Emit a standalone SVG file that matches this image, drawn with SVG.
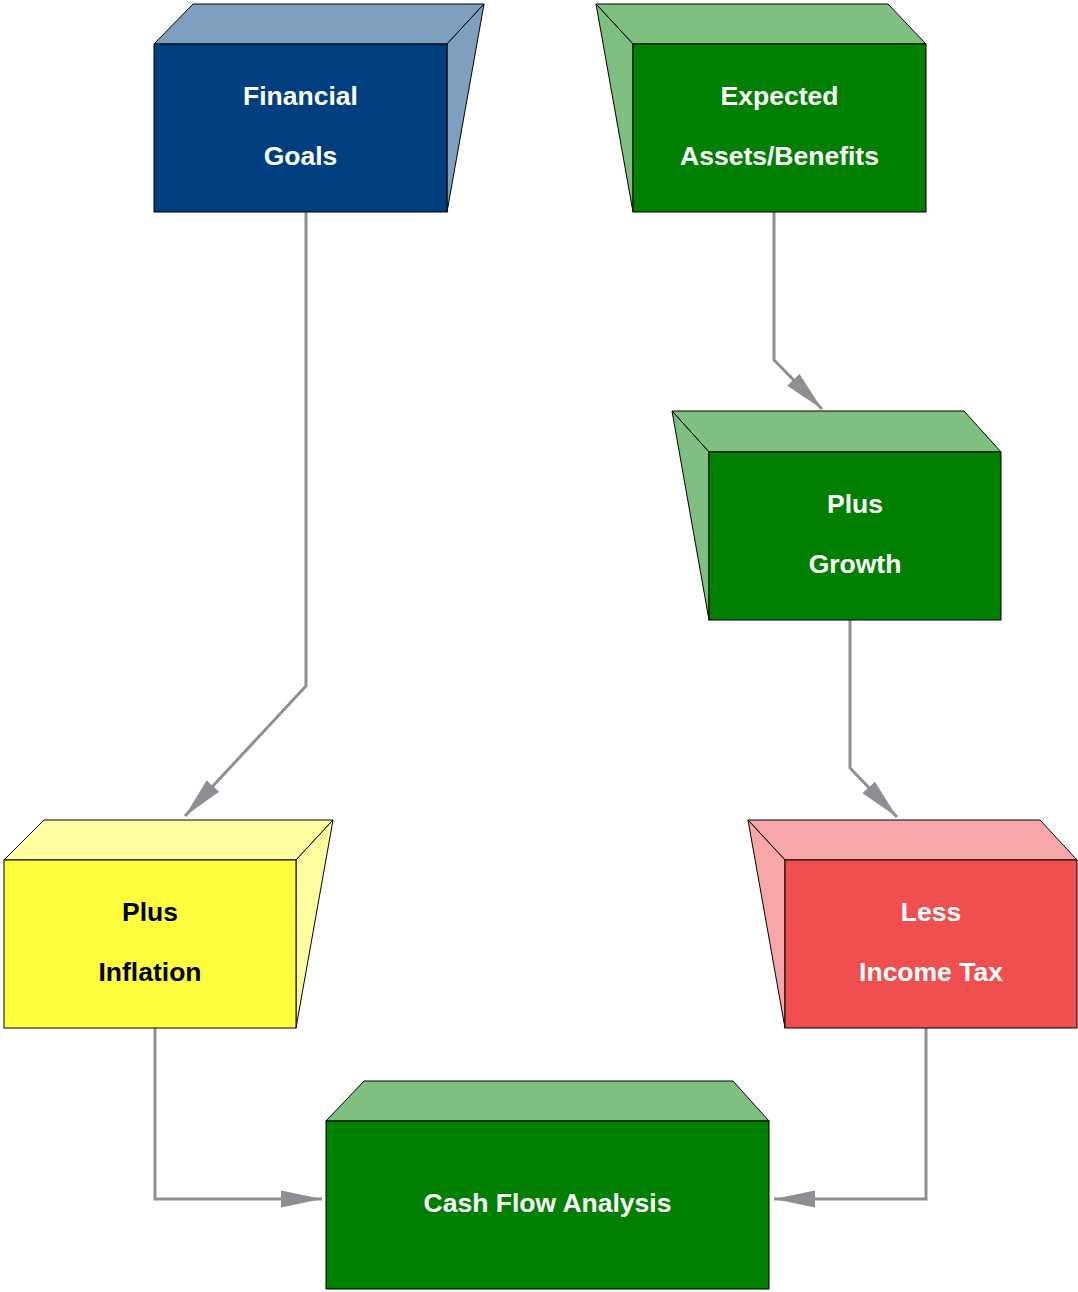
<svg xmlns="http://www.w3.org/2000/svg" width="1078" height="1292" viewBox="0 0 1078 1292">
<style>
.e{stroke:#000;stroke-width:1;stroke-linejoin:miter}
.t{font-family:"Liberation Sans",Arial,sans-serif;font-weight:bold;font-size:26.5px;text-anchor:middle;fill:#fff}
.c{fill:none;stroke:#8e8e94;stroke-width:3}
</style>
<defs>
<marker id="ah" markerUnits="userSpaceOnUse" markerWidth="44" markerHeight="20" refX="41" refY="8.5" orient="auto" viewBox="0 0 44 17">
<path d="M0,0 L41,8.5 L0,17 Z" fill="#8e8e94"/>
</marker>
</defs>
<rect width="1078" height="1292" fill="#fff"/>
<g id="connectors">
<polyline class="c" points="306,212 306,686 185,816" marker-end="url(#ah)"/>
<polyline class="c" points="774,212 774,360 822,409" marker-end="url(#ah)"/>
<polyline class="c" points="850,620 850,768 897,817" marker-end="url(#ah)"/>
<polyline class="c" points="155,1028 155,1199 322,1199" marker-end="url(#ah)"/>
<polyline class="c" points="926,1028 926,1199 774,1199" marker-end="url(#ah)"/>
</g>
<g id="financial-goals">
<polygon class="e" points="154,44 193,4 484,4 447,44" fill="#7f9fbf"/>
<polygon class="e" points="447,44 484,4 447,212" fill="#7f9fbf"/>
<rect class="e" x="154" y="44" width="293" height="168" fill="#003f7f"/>
<text class="t" x="300.5" y="105">Financial</text>
<text class="t" x="300.5" y="165">Goals</text>
</g>
<g id="expected-assets">
<polygon class="e" points="633,44 596,4 888,4 926,44" fill="#7fbf7f"/>
<polygon class="e" points="596,4 633,44 633,212" fill="#7fbf7f"/>
<rect class="e" x="633" y="44" width="293" height="168" fill="#007f00"/>
<text class="t" x="779.5" y="105">Expected</text>
<text class="t" x="779.5" y="165">Assets/Benefits</text>
</g>
<g id="plus-growth">
<polygon class="e" points="709,452 672,411 964,411 1001,452" fill="#7fbf7f"/>
<polygon class="e" points="672,411 709,452 709,620" fill="#7fbf7f"/>
<rect class="e" x="709" y="452" width="292" height="168" fill="#007f00"/>
<text class="t" x="855" y="513">Plus</text>
<text class="t" x="855" y="573">Growth</text>
</g>
<g id="plus-inflation">
<polygon class="e" points="4,860 44,820 333,820 296,860" fill="#ffff9f"/>
<polygon class="e" points="296,860 333,820 296,1028" fill="#ffff9f"/>
<rect class="e" x="4" y="860" width="292" height="168" fill="#ffff3f"/>
<text class="t" x="150" y="921" style="fill:#000">Plus</text>
<text class="t" x="150" y="981" style="fill:#000">Inflation</text>
</g>
<g id="less-income-tax">
<polygon class="e" points="785,860 748,820 1040,820 1077,860" fill="#f7a7a7"/>
<polygon class="e" points="748,820 785,860 785,1028" fill="#f7a7a7"/>
<rect class="e" x="785" y="860" width="292" height="168" fill="#ef4f4f"/>
<text class="t" x="931" y="921">Less</text>
<text class="t" x="931" y="981">Income Tax</text>
</g>
<g id="cash-flow-analysis">
<polygon class="e" points="326,1121 364,1081 733,1081 769,1121" fill="#7fbf7f"/>
<rect class="e" x="326" y="1121" width="443" height="168" fill="#007f00"/>
<text class="t" x="547.5" y="1212">Cash Flow Analysis</text>
</g>
</svg>
